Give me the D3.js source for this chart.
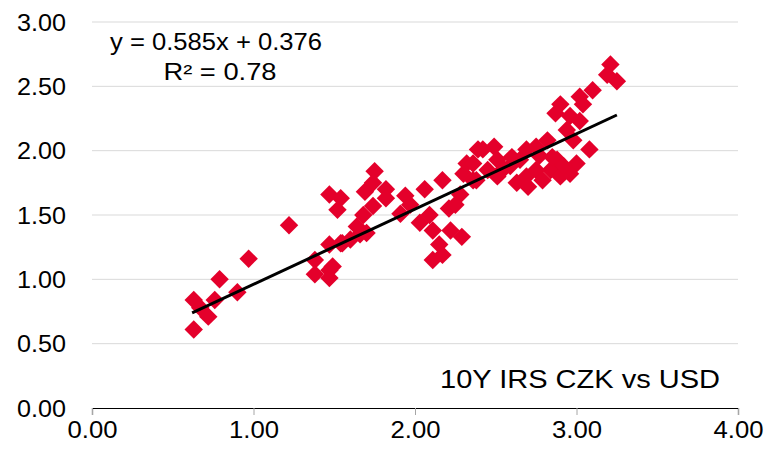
<!DOCTYPE html>
<html>
<head>
<meta charset="utf-8">
<script src="https://cdn.jsdelivr.net/npm/d3@7"></script>
<style>
  body { margin: 0; background: #fff; }
  svg { font-family: "Liberation Sans", Arial, sans-serif; }
</style>
</head>
<body>
<svg id="svg1" width="767" height="449"></svg>
<script>
// 10Y IRS USD (x) vs 10Y IRS CZK (y)
var xVals = [0.63, 0.63, 0.67, 0.72, 0.76, 0.79, 0.90, 0.97, 1.22, 1.38, 1.38, 1.47, 1.47, 1.47, 1.55, 1.47, 1.54, 1.52,
  1.75, 1.74, 1.69, 1.82, 1.82, 1.74, 1.68, 1.64, 1.60, 1.54, 1.49, 1.94, 1.91, 1.97, 2.06, 2.17, 2.09, 2.03, 2.11,
  2.15, 2.11, 2.17, 2.29, 2.22, 2.21, 2.28, 2.30, 2.32, 2.39, 2.36,
  3.21, 3.25, 3.19, 3.10, 3.02, 3.04, 2.90, 2.87, 2.96, 3.02, 2.94, 2.82, 2.75, 2.98, 3.08, 3.00, 2.96, 2.88, 2.84,
  2.90, 2.77, 2.69, 2.65, 2.63, 2.69, 2.75, 2.79, 2.59, 2.49, 2.42, 2.51, 2.36, 2.38, 2.51, 2.55,
  2.70, 2.85, 2.92, 2.60, 2.45, 1.70, 1.66, 2.25];
var yVals = [0.61, 0.84, 0.78, 0.71, 0.84, 1.00, 0.90, 1.16, 1.42, 1.15, 1.04, 1.07, 1.01, 1.27, 1.28, 1.66, 1.63, 1.54,
  1.84, 1.75, 1.68, 1.70, 1.63, 1.57, 1.50, 1.41, 1.31, 1.28, 1.10, 1.65, 1.51, 1.58, 1.70, 1.77, 1.50, 1.44, 1.38,
  1.27, 1.15, 1.19, 1.33, 1.38, 1.55, 1.66, 1.82, 1.90, 2.01, 1.77,
  2.67, 2.54, 2.59, 2.47, 2.42, 2.36, 2.36, 2.29, 2.27, 2.23, 2.16, 2.08, 2.03, 2.08, 2.01, 1.90, 1.82, 1.93, 1.85,
  1.80, 1.96, 2.01, 1.93, 1.75, 1.80, 1.85, 1.77, 1.88, 2.03, 2.01, 1.93, 1.90, 1.77, 1.80, 1.86,
  1.72, 1.95, 1.88, 1.95, 1.85, 1.36, 1.35, 1.58];

var xTicks = [0, 1, 2, 3, 4];
var yTicks = [0, 0.5, 1, 1.5, 2, 2.5, 3];

var slope = 0.585, intercept = 0.376;
var fitRange = [0.62, 3.25];

var svg = d3.select('#svg1');

var x = d3.scaleLinear().domain([0, 4]).range([92, 738]);
var y = d3.scaleLinear().domain([0, 3]).range([408, 22]);

// gridlines
svg.append('g')
    .selectAll('line')
    .data(yTicks.filter(function (d) { return d > 0; }))
    .enter()
    .append('line')
    .attr('x1', x(0))
    .attr('x2', x(4))
    .attr('y1', function (d) { return y(d); })
    .attr('y2', function (d) { return y(d); })
    .attr('stroke', '#d9d9d9')
    .attr('stroke-width', 1);

// y labels
svg.append('g')
    .selectAll('text')
    .data(yTicks)
    .enter()
    .append('text')
    .attr('x', 66)
    .attr('y', function (d) { return y(d); })
    .attr('dy', '0.36em')
    .attr('text-anchor', 'end')
    .attr('font-size', 24)
    .attr('textLength', 49)
    .attr('lengthAdjust', 'spacingAndGlyphs')
    .text(function (d) { return d3.format('.2f')(d); });

// x axis
var xAxis = svg.append('g')
    .attr('transform', 'translate(0,' + y(0) + ')')
    .call(d3.axisBottom(x).tickValues(xTicks).tickSize(7).tickFormat(d3.format('.2f')));
xAxis.select('.domain').attr('stroke', '#000').attr('stroke-width', 1.2);
xAxis.selectAll('.tick line').attr('stroke', '#a6a6a6');
xAxis.selectAll('.tick text')
    .attr('font-size', 24)
    .attr('font-family', '"Liberation Sans", Arial, sans-serif')
    .attr('fill', '#000')
    .attr('textLength', 50)
    .attr('lengthAdjust', 'spacingAndGlyphs')
    .attr('y', 13);

// points
var diamond = d3.symbol().type(d3.symbolSquare).size(170);
svg.append('g')
    .selectAll('path')
    .data(xVals.map(function (d, i) { return [d, yVals[i]]; }))
    .enter()
    .append('path')
    .attr('d', diamond)
    .attr('transform', function (d) { return 'translate(' + x(d[0]) + ',' + y(d[1]) + ') rotate(45)'; })
    .attr('fill', '#e4002b');

// trend line
svg.append('line')
    .attr('x1', x(fitRange[0]))
    .attr('y1', y(slope * fitRange[0] + intercept))
    .attr('x2', x(fitRange[1]))
    .attr('y2', y(slope * fitRange[1] + intercept))
    .attr('stroke', '#000')
    .attr('stroke-width', 3);

// equation
svg.append('text')
    .attr('x', 216)
    .attr('y', 50)
    .attr('text-anchor', 'middle')
    .attr('font-size', 23)
    .attr('textLength', 212)
    .attr('lengthAdjust', 'spacingAndGlyphs')
    .text('y = 0.585x + 0.376');
svg.append('text')
    .attr('x', 220)
    .attr('y', 80)
    .attr('text-anchor', 'middle')
    .attr('font-size', 23)
    .attr('textLength', 113)
    .attr('lengthAdjust', 'spacingAndGlyphs')
    .text('R² = 0.78');

// label
svg.append('text')
    .attr('x', 720)
    .attr('y', 388)
    .attr('text-anchor', 'end')
    .attr('font-size', 26)
    .attr('textLength', 280)
    .attr('lengthAdjust', 'spacingAndGlyphs')
    .text('10Y IRS CZK vs USD');
</script>
</body>
</html>
